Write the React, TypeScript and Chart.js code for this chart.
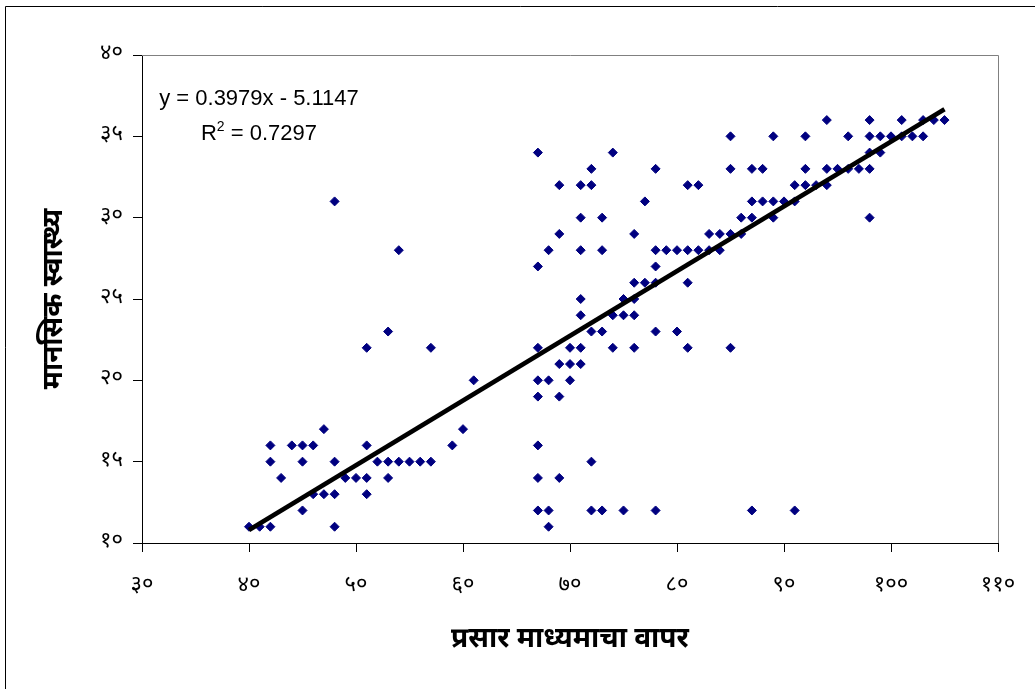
import React, { useEffect, useRef } from 'react';
import { Chart, registerables } from 'chart.js';

Chart.register(...registerables);

// Mental-health score levels (y) and, for each level, the media-use scores (x) observed at it
const mentalHealthLevels = [11, 12, 13, 14, 15, 16, 17, 19, 20, 21, 22, 23, 24, 25, 26, 27, 28, 29, 30, 31, 32, 33, 34, 35, 36];
const mediaUseByLevel = [
  [40, 41, 42, 48, 68],
  [45, 67, 68, 72, 73, 75, 78, 87, 91],
  [46, 47, 48, 51],
  [43, 49, 50, 51, 53, 67, 69],
  [42, 45, 48, 52, 53, 54, 55, 56, 57, 72],
  [42, 44, 45, 46, 51, 59, 67],
  [47, 60],
  [67, 69],
  [61, 67, 68, 70],
  [69, 70, 71],
  [51, 57, 67, 70, 71, 74, 76, 81, 85],
  [53, 72, 73, 78, 80],
  [71, 74, 75, 76],
  [71, 75, 76],
  [76, 77, 78, 81],
  [67, 78],
  [54, 68, 71, 73, 78, 79, 80, 81, 82, 83, 84],
  [69, 76, 83, 84, 85, 86],
  [71, 73, 86, 87, 89, 98],
  [48, 77, 87, 88, 89, 90, 91],
  [69, 71, 72, 81, 82, 91, 92, 93, 94],
  [72, 78, 85, 87, 88, 92, 94, 95, 96, 97, 98],
  [67, 74, 98, 99],
  [85, 89, 92, 96, 98, 99, 100, 101, 102, 103],
  [94, 98, 101, 103, 104, 105],
];

const xTickValues = [30, 40, 50, 60, 70, 80, 90, 100, 110];
const xTickLabels = ['३०', '४०', '५०', '६०', '७०', '८०', '९०', '१००', '११०'];
const yTickValues = [10, 15, 20, 25, 30, 35, 40];
const yTickLabels = ['१०', '१५', '२०', '२५', '३०', '३५', '४०'];

const trendSlope = 0.3979;
const trendIntercept = -5.1147;
const equationText = 'y = 0.3979x - 5.1147';
const rSquaredText = ' = 0.7297';

const xTitle = 'प्रसार माध्यमाचा वापर';
const yTitle = 'मानसिक स्वास्थ्य';

const DEVA = "'Noto Sans Devanagari', 'Lohit Devanagari', 'Mangal', 'Noto Sans', sans-serif";
const LATIN = "'Liberation Sans', Arial, sans-serif";

const decor = {
  id: 'decor',
  beforeDatasetsDraw(chart: any) {
    const { ctx, chartArea: a } = chart;
    ctx.save();
    ctx.strokeStyle = '#808080';
    ctx.lineWidth = 1;
    ctx.beginPath();
    ctx.moveTo(a.left, Math.round(a.top) + 0.5);
    ctx.lineTo(Math.round(a.right) + 0.5, Math.round(a.top) + 0.5);
    ctx.lineTo(Math.round(a.right) + 0.5, a.bottom);
    ctx.stroke();
    ctx.restore();
  },
  afterDraw(chart: any) {
    const { ctx, chartArea: a, width, height } = chart;
    ctx.save();
    // outer chart frame (only left and top edges fall inside the picture)
    ctx.strokeStyle = '#000';
    ctx.lineWidth = 1;
    ctx.beginPath();
    ctx.moveTo(5.5, height);
    ctx.lineTo(5.5, 6.5);
    ctx.lineTo(width, 6.5);
    ctx.stroke();

    ctx.fillStyle = '#000';
    // axis titles
    ctx.font = `bold 28px ${DEVA}`;
    ctx.textAlign = 'center';
    ctx.textBaseline = 'middle';
    ctx.fillText(xTitle, (a.left + a.right) / 2, 642);
    ctx.save();
    ctx.translate(57, (a.top + a.bottom) / 2);
    ctx.rotate(-Math.PI / 2);
    ctx.fillText(yTitle, 0, 0);
    ctx.restore();

    // trend-line equation
    const cx = a.left + 117;
    ctx.textBaseline = 'alphabetic';
    ctx.font = `22px ${LATIN}`;
    ctx.textAlign = 'center';
    ctx.fillText(equationText, cx, a.top + 50);
    const rW = ctx.measureText('R').width;
    const restW = ctx.measureText(rSquaredText).width;
    ctx.font = `14px ${LATIN}`;
    const supW = ctx.measureText('2').width;
    const total = rW + supW + restW;
    let x = cx - total / 2;
    const base2 = a.top + 85;
    ctx.textAlign = 'left';
    ctx.font = `22px ${LATIN}`;
    ctx.fillText('R', x, base2);
    x += rW;
    ctx.font = `14px ${LATIN}`;
    ctx.fillText('2', x, base2 - 9);
    x += supW;
    ctx.font = `22px ${LATIN}`;
    ctx.fillText(rSquaredText, x, base2);
    ctx.restore();
  },
};

export default function App() {
  const ref = useRef<HTMLCanvasElement>(null);

  useEffect(() => {
    const canvas = ref.current;
    if (!canvas) return;
    const points: { x: number; y: number }[] = [];
    mentalHealthLevels.forEach((y, i) => {
      mediaUseByLevel[i].forEach((x) => points.push({ x, y }));
    });
    const xs = points.map((p) => p.x);
    const xMin = Math.min(...xs);
    const xMax = Math.max(...xs);
    const trend = [
      { x: xMin, y: trendSlope * xMin + trendIntercept },
      { x: xMax, y: trendSlope * xMax + trendIntercept },
    ];

    const chart = new Chart(canvas, {
      type: 'scatter',
      data: {
        datasets: [
          {
            data: trend,
            showLine: true,
            borderColor: '#000',
            borderWidth: 4.5,
            pointRadius: 0,
            order: 0,
          },
          {
            data: points,
            pointStyle: 'rectRot',
            pointRadius: 4.5,
            backgroundColor: '#000080',
            borderColor: '#000080',
            borderWidth: 1,
            order: 1,
          },
        ],
      },
      options: {
        responsive: false,
        animation: false,
        devicePixelRatio: 1,
        layout: { padding: { left: 0, top: 55, right: 37, bottom: 0 } },
        plugins: { legend: { display: false }, tooltip: { enabled: false } },
        scales: {
          x: {
            type: 'linear',
            min: 30,
            max: 110,
            afterBuildTicks: (s: any) => {
              s.ticks = xTickValues.map((v) => ({ value: v }));
            },
            afterFit: (s: any) => {
              s.height = 146;
              s.paddingRight = 0;
              s.paddingLeft = 0;
            },
            grid: { drawOnChartArea: false, tickLength: 9, tickColor: '#000' },
            border: { color: '#000', width: 1 },
            ticks: {
              autoSkip: false,
              maxRotation: 0,
              padding: 22,
              color: '#000',
              font: { family: DEVA, size: 22 },
              callback: (v: any) => {
                const i = xTickValues.indexOf(Number(v));
                return i >= 0 ? xTickLabels[i] : '';
              },
            },
          },
          y: {
            type: 'linear',
            min: 10,
            max: 40,
            afterBuildTicks: (s: any) => {
              s.ticks = yTickValues.map((v) => ({ value: v }));
            },
            afterFit: (s: any) => {
              s.width = 142;
            },
            grid: { drawOnChartArea: false, tickLength: 9, tickColor: '#000' },
            border: { color: '#000', width: 1 },
            ticks: {
              autoSkip: false,
              padding: 10,
              color: '#000',
              font: { family: DEVA, size: 22 },
              callback: (v: any) => {
                const i = yTickValues.indexOf(Number(v));
                return i >= 0 ? yTickLabels[i] : '';
              },
            },
          },
        },
      },
      plugins: [decor],
    } as any);

    return () => chart.destroy();
  }, []);

  return (
    <div style={{ position: 'absolute', left: 0, top: 0, width: 1035, height: 689, background: '#fff' }}>
      <canvas ref={ref} width={1035} height={689} style={{ display: 'block' }} />
    </div>
  );
}
